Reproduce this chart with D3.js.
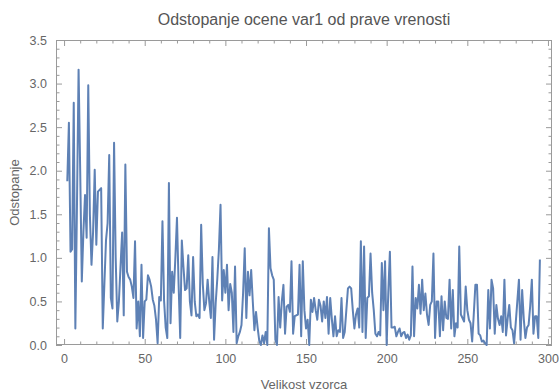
<!DOCTYPE html>
<html>
<head>
<meta charset="utf-8">
<script src="https://cdn.jsdelivr.net/npm/d3@7"></script>
<style>
  body { margin: 0; background: #fff; }
  svg { display: block; font-family: "Liberation Sans", Arial, sans-serif; }
</style>
</head>
<body>
<div id="chart"></div>
<script>
// chart text
const title = 'Odstopanje ocene var1 od prave vrenosti';
const xLabel = 'Velikost vzorca';
const yLabel = 'Odstopanje';

// x values (sample sizes) and the deviation
const firstSize = 2;
const deviation = [
  1.88, 2.55, 1.07, 1.1, 2.78, 0.19, 1.6, 3.16, 2.0, 0.73,
  1.3, 1.72, 1.23, 2.98, 1.5, 0.92, 1.3, 2.01, 1.15, 1.76,
  1.78, 1.80, 0.19, 0.7, 1.2, 1.4, 2.18, 0.54, 0.42, 2.32,
  1.0, 0.27, 0.5, 0.9, 1.29, 0.34, 2.07, 0.84, 0.78, 0.75,
  0.67, 0.54, 1.19, 0.19, 0.5, 0.1, 0.92, 0.08, 0.5, 0.52,
  0.8, 0.75, 0.67, 0.52, 0.45, 0.29, 0.02, 0.55, 0.51, 1.42,
  0.51, 0.2, 0.08, 1.86, 0.25, 0.84, 0.6, 1.0, 1.46, 0.7,
  0.08, 1.2, 0.9, 0.63, 0.65, 1.03, 0.5, 0.34, 1.01, 0.5,
  0.33, 0.35, 0.31, 1.38, 0.7, 0.4, 0.48, 0.75, 0.5, 0.31,
  1.01, 0.06, 0.48, 0.76, 1.1, 1.61, 0.51, 0.86, 0.6, 0.92,
  0.4, 0.7, 0.6, 0.15, 0.9, 0.02, 0.1, 0.15, 0.23, 0.6,
  1.11, 0.31, 0.84, 0.57, 0.86, 0.5, 0.17, 0.38, 0.2, 0.05,
  0.0, 0.11, 0.02, 0.15, 0.0, 1.34, 0.88, 0.8, 0.75, 0.06,
  0.0, 0.55, 0.2, 0.5, 0.69, 0.13, 0.44, 0.46, 0.38, 0.96,
  0.13, 0.33, 0.34, 0.35, 0.92, 0.1, 0.96, 0.4, 0.19, 0.29,
  0.0, 0.52, 0.38, 0.54, 0.4, 0.29, 0.52, 0.45, 0.27, 0.5,
  0.31, 0.55, 0.13, 0.54, 0.3, 0.1, 0.33, 0.1, 0.17, 0.15,
  0.54, 0.08, 0.15, 0.4, 0.65, 0.67, 0.65, 0.4, 0.19, 0.35,
  0.42, 0.2, 1.19, 0.15, 1.13, 0.08, 0.54, 0.56, 1.05, 0.6,
  0.4, 0.13, 0.1, 0.15, 0.11, 0.94, 0.4, 0.96, 0.0, 0.6,
  1.07, 0.2, 0.2, 0.21, 0.1, 0.15, 0.19, 0.1, 0.14, 0.15,
  0.08, 0.12, 0.06, 0.11, 0.9, 0.1, 0.54, 0.42, 0.69, 0.36,
  0.75, 0.4, 0.59, 0.35, 0.23, 0.46, 0.5, 1.05, 0.08, 0.5,
  0.5, 0.1, 0.56, 0.17, 0.5, 0.31, 0.3, 0.75, 0.19, 0.63,
  0.1, 0.25, 0.2, 1.13, 0.35, 0.31, 0.27, 0.67, 0.4, 0.29,
  0.25, 0.04, 0.35, 0.69, 0.69, 0.13, 0.11, 0.04, 0.05, 0.02,
  0.0, 0.63, 0.19, 0.75, 0.65, 0.13, 0.46, 0.3, 0.23, 0.33,
  0.15, 0.75, 0.11, 0.3, 0.46, 0.2, 0.17, 0.02, 0.25, 0.5,
  0.75, 0.06, 0.63, 0.3, 0.08, 0.2, 0.23, 0.45, 0.75, 0.13,
  0.33, 0.33, 0.08, 0.98
];

// ticks
const xMajorTicks = [0, 50, 100, 150, 200, 250, 300];
const yMajorTicks = [0, 0.5, 1.0, 1.5, 2.0, 2.5, 3.0, 3.5];

const width = 559, height = 392;
const frame = { left: 56, right: 552, top: 40, bottom: 345 };

const svg = d3.select('#chart').append('svg')
  .attr('width', width)
  .attr('height', height);

const x = d3.scaleLinear().domain([-5, 302.5]).range([frame.left, frame.right]);
const y = d3.scaleLinear().domain([0, 3.5]).range([frame.bottom, frame.top]);

const frameColor = '#9a9a9a';
const textColor = '#666';

const xMinor = d3.range(0, 301, 10).filter(v => !xMajorTicks.includes(v));
const yMinor = d3.range(0, 36).map(v => v / 10).filter(v => !yMajorTicks.some(t => Math.abs(t - v) < 1e-9));

// frame with inward ticks on all sides (Mathematica style)
function frameAxis(axis, scale, major, minor, translate, showLabels, fmt) {
  const gMaj = svg.append('g').attr('transform', translate)
    .call(axis(scale).tickValues(major).tickSizeInner(-6).tickSizeOuter(0).tickPadding(showLabels ? 9 : 0)
      .tickFormat(showLabels ? fmt : () => ''));
  const gMin = svg.append('g').attr('transform', translate)
    .call(axis(scale).tickValues(minor).tickSizeInner(-3.5).tickSizeOuter(0).tickFormat(() => ''));
  [gMaj, gMin].forEach(g => {
    g.selectAll('.domain').remove();
    g.selectAll('line').attr('stroke', frameColor).attr('stroke-width', 1);
  });
  gMaj.selectAll('text')
    .attr('fill', textColor)
    .style('font-size', '12.5px')
    .style('font-family', '"Liberation Sans", Arial, sans-serif');
}

frameAxis(d3.axisBottom, x, xMajorTicks, xMinor, `translate(0,${frame.bottom})`, true, d3.format('d'));
frameAxis(d3.axisTop, x, xMajorTicks, xMinor, `translate(0,${frame.top})`, false);
frameAxis(d3.axisLeft, y, yMajorTicks, yMinor, `translate(${frame.left},0)`, true, d3.format('.1f'));
frameAxis(d3.axisRight, y, yMajorTicks, yMinor, `translate(${frame.right},0)`, false);

svg.append('rect')
  .attr('x', frame.left + 0.5)
  .attr('y', frame.top + 0.5)
  .attr('width', frame.right - frame.left - 1)
  .attr('height', frame.bottom - frame.top - 1)
  .attr('fill', 'none')
  .attr('stroke', frameColor)
  .attr('stroke-width', 1);

svg.append('defs').append('clipPath').attr('id', 'plotClip')
  .append('rect')
  .attr('x', frame.left).attr('y', frame.top - 2)
  .attr('width', frame.right - frame.left)
  .attr('height', frame.bottom - frame.top + 4);

const line = d3.line()
  .x((d, i) => x(firstSize + i))
  .y(d => y(d));

svg.append('path')
  .datum(deviation)
  .attr('clip-path', 'url(#plotClip)')
  .attr('d', line)
  .attr('fill', 'none')
  .attr('stroke', '#5e81b5')
  .attr('stroke-width', 2)
  .attr('stroke-linejoin', 'round');

// title and axis labels
svg.append('text')
  .attr('x', (frame.left + frame.right) / 2)
  .attr('y', 25)
  .attr('text-anchor', 'middle')
  .attr('fill', '#555')
  .style('font-size', '16px')
  .text(title);

svg.append('text')
  .attr('x', (frame.left + frame.right) / 2)
  .attr('y', 389)
  .attr('text-anchor', 'middle')
  .attr('fill', textColor)
  .style('font-size', '13px')
  .text(xLabel);

svg.append('text')
  .attr('transform', `translate(19,${(frame.top + frame.bottom) / 2}) rotate(-90)`)
  .attr('text-anchor', 'middle')
  .attr('fill', textColor)
  .style('font-size', '13px')
  .text(yLabel);
</script>
</body>
</html>
